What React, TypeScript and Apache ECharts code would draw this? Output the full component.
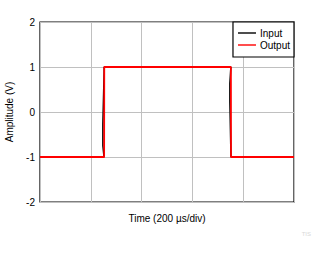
import React, { useEffect, useRef } from "react";
import * as echarts from "echarts";

const inputSeries: [number, number][] = [
  [0, -1], [252, -1], [247.5, -0.75], [247.5, -0.27], [252.5, 0.9], [252.5, 1],
  [751.5, 1], [747.5, 0.64], [747.5, 0.23], [751.5, -0.9], [752, -1], [1000, -1],
];
const outputSeries: [number, number][] = [
  [0, -1], [252.5, -1], [253, 1], [751.5, 1], [752, -1], [1000, -1],
];
const yTicks = [-2, -1, 0, 1, 2];
const seriesNames = ["Input", "Output"];

export default function App() {
  const ref = useRef<HTMLDivElement>(null);
  useEffect(() => {
    if (!ref.current) return;
    const chart = echarts.init(ref.current, null, { renderer: "svg" });
    const font = "Liberation Sans, Arial, sans-serif";
    chart.setOption({
      animation: false,
      backgroundColor: "#fff",
      textStyle: { fontFamily: font },
      grid: {
        left: 40, right: 33, top: 22, bottom: 52,
        containLabel: false, outerBoundsMode: "none",
        show: true, borderColor: "#000", borderWidth: 1.2, backgroundColor: "transparent",
      },
      legend: {
        right: 33, top: 22, orient: "vertical",
        backgroundColor: "#fff", borderColor: "#000", borderWidth: 1.2, borderRadius: 0,
        padding: [6, 4, 7, 5], itemGap: 2, itemWidth: 18, itemHeight: 10,
        textStyle: { fontSize: 10, color: "#000", fontFamily: font, padding: [0, 0, 0, -1] },
        data: seriesNames.map((n) => ({ name: n, icon: "path://M0,0 L18,0 L18,1.4 L0,1.4 Z" })),
      },
      xAxis: {
        type: "value", min: 0, max: 1000, interval: 200,
        name: "Time (200 µs/div)", nameLocation: "middle", nameGap: 11,
        nameTextStyle: { fontSize: 10, color: "#000", fontFamily: font },
        axisLine: { show: false }, axisTick: { show: false }, axisLabel: { show: false },
        splitLine: { show: true, lineStyle: { color: "#c0c0c0", width: 1 } },
      },
      yAxis: {
        type: "value", min: -2, max: 2, interval: 1,
        name: "Amplitude (V)", nameLocation: "middle", nameGap: 26,
        nameTextStyle: { fontSize: 10, color: "#000", fontFamily: font },
        axisLine: { show: false }, axisTick: { show: false },
        axisLabel: {
          fontSize: 10, color: "#000", margin: 5, fontFamily: font,
          formatter: (v: number) => (yTicks.includes(v) ? String(v) : ""),
        },
        splitLine: { show: true, lineStyle: { color: "#c0c0c0", width: 1 } },
      },
      graphic: [
        { type: "text", right: 16, top: 231, style: { text: "TIS", fill: "#d8d8d8", fontSize: 6, fontFamily: font } },
      ],
      series: [
        {
          name: seriesNames[0], type: "line", data: inputSeries, showSymbol: false,
          lineStyle: { color: "#000", width: 1.5 }, itemStyle: { color: "#000" }, z: 2,
        },
        {
          name: seriesNames[1], type: "line", data: outputSeries, showSymbol: false,
          lineStyle: { color: "#ff0000", width: 1.8 }, itemStyle: { color: "#ff0000" }, z: 3,
        },
      ],
    });
    return () => chart.dispose();
  }, []);
  return <div ref={ref} style={{ width: 327, height: 254, position: "absolute", left: 0, top: 0 }} />;
}
